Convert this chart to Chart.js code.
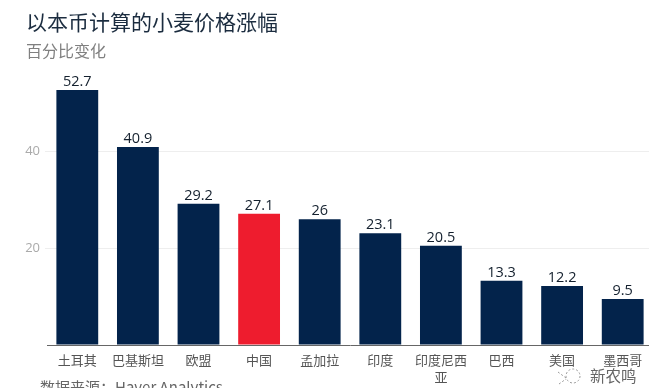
<!DOCTYPE html>
<html>
<head>
<meta charset="utf-8">
<script src="https://cdn.jsdelivr.net/npm/chart.js@4"></script>
<style>
html, body { margin: 0; padding: 0; background: #fff; width: 649px; height: 388px; overflow: hidden; }
body { position: relative; font-family: 'Noto Sans CJK SC', sans-serif; }
canvas { position: absolute; left: 0; top: 0; }
.txt { position: absolute; white-space: nowrap; line-height: 1; }
#title { left: 26px; top: 11px; font-size: 21px; color: #1b2c3f; }
#subtitle { left: 26px; top: 42px; font-size: 16px; color: #808080; }
#source { left: 40px; top: 379px; font-size: 15px; color: #666; }
#mark { left: 590px; top: 368px; font-size: 15.5px; color: #666; }
#icon { position: absolute; left: 556px; top: 365px; }
</style>
</head>
<body>
<canvas id="chart" width="660" height="388"></canvas>
<div class="txt" id="title">以本币计算的小麦价格涨幅</div>
<div class="txt" id="subtitle">百分比变化</div>
<div class="txt" id="source">数据来源：Haver Analytics</div>
<svg id="icon" width="30" height="23" fill="none" stroke="#999" stroke-width="1" stroke-dasharray="2 2">
    <circle cx="17" cy="11" r="7"></circle>
    <path d="M2 7 L10 13 M3 19 L10 14"></path>
</svg>
<div class="txt" id="mark">新农鸣</div>
<script>
const categories = ['土耳其', '巴基斯坦', '欧盟', '中国', '孟加拉', '印度', ['印度尼西', '亚'], '巴西', '美国', '墨西哥'];
const changes = [52.7, 40.9, 29.2, 27.1, 26, 23.1, 20.5, 13.3, 12.2, 9.5];
const barColors = ['#03234b', '#03234b', '#03234b', '#ee1c2e', '#03234b', '#03234b', '#03234b', '#03234b', '#03234b', '#03234b'];
const yTicks = [0, 20, 40];

// value labels above the bars
const valueLabels = {
    id: 'valueLabels',
    afterDatasetsDraw(chart) {
        const ctx = chart.ctx;
        ctx.save();
        ctx.font = "14.5px 'Open Sans', sans-serif";
        ctx.fillStyle = '#14202e';
        ctx.textAlign = 'center';
        ctx.textBaseline = 'bottom';
        chart.getDatasetMeta(0).data.forEach((bar, i) => {
            ctx.fillText(String(changes[i]), bar.x, bar.y - 1);
        });
        ctx.restore();
    }
};

new Chart(document.getElementById('chart'), {
    type: 'bar',
    data: {
        labels: categories,
        datasets: [{
            data: changes,
            backgroundColor: barColors,
            categoryPercentage: 1,
            barPercentage: 0.69
        }]
    },
    plugins: [valueLabels],
    options: {
        responsive: false,
        animation: false,
        layout: { padding: { top: 74, right: 7, left: 0, bottom: 0 } },
        plugins: {
            legend: { display: false },
            tooltip: { enabled: false }
        },
        scales: {
            x: {
                afterFit: scale => { scale.height = 43; },
                grid: { display: false, tickLength: 3 },
                border: { color: '#666', width: 1 },
                ticks: {
                    color: '#555',
                    padding: 4,
                    maxRotation: 0,
                    autoSkip: false,
                    font: { family: "'Noto Sans CJK SC'", size: 13, lineHeight: 1.3 }
                }
            },
            y: {
                min: 0,
                max: 56,
                afterFit: scale => { scale.width = 47; },
                afterBuildTicks: scale => { scale.ticks = yTicks.map(value => ({ value })); },
                border: { display: false },
                grid: {
                    color: ctx => ctx.tick.value === 0 ? 'rgba(0,0,0,0)' : '#eeeeee',
                    tickLength: 2
                },
                ticks: {
                    color: '#aaaaaa',
                    padding: 5,
                    callback: v => v === 0 ? '' : v,
                    font: { family: "'Open Sans'", size: 13 }
                }
            }
        }
    }
});
</script>
</body>
</html>
